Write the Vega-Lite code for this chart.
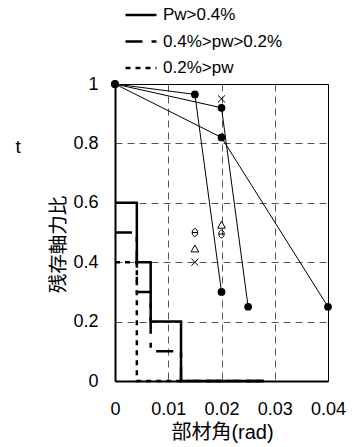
{
  "$schema": "https://vega.github.io/schema/vega-lite/v6.json",
  "width": 213,
  "height": 297,
  "autosize": {"type": "none"},
  "padding": {"left": 115, "top": 84, "right": 25, "bottom": 66},
  "background": "white",
  "config": {
    "view": {"stroke": "black", "strokeWidth": 1},
    "font": "Liberation Sans, Noto Sans CJK JP",
    "axis": {
      "domainColor": "black",
      "domainWidth": 2,
      "ticks": false,
      "tickSize": 0,
      "labelFont": "Liberation Sans",
      "labelFontSize": 18,
      "labelColor": "black",
      "labelFlush": false,
      "labelOverlap": false,
      "titleFont": "Liberation Sans, Noto Sans CJK JP",
      "titleFontSize": 20,
      "titleFontWeight": "normal",
      "titleColor": "black",
      "gridColor": "#555",
      "gridWidth": 1,
      "gridDash": [7, 5]
    }
  },
  "datasets": {
    "envelope": [
      {"series": "Pw>0.4%", "order": 1, "x": 0, "y": 0.6},
      {"series": "Pw>0.4%", "order": 2, "x": 0.0041, "y": 0.6},
      {"series": "Pw>0.4%", "order": 3, "x": 0.0041, "y": 0.4},
      {"series": "Pw>0.4%", "order": 4, "x": 0.0067, "y": 0.4},
      {"series": "Pw>0.4%", "order": 5, "x": 0.0067, "y": 0.2},
      {"series": "Pw>0.4%", "order": 6, "x": 0.0124, "y": 0.2},
      {"series": "Pw>0.4%", "order": 7, "x": 0.0124, "y": 0},
      {"series": "Pw>0.4%", "order": 8, "x": 0.028, "y": 0},
      {"series": "0.4%>pw>0.2%", "order": 1, "x": 0, "y": 0.5},
      {"series": "0.4%>pw>0.2%", "order": 2, "x": 0.0041, "y": 0.5},
      {"series": "0.4%>pw>0.2%", "order": 3, "x": 0.0041, "y": 0.3},
      {"series": "0.4%>pw>0.2%", "order": 4, "x": 0.0067, "y": 0.3},
      {"series": "0.4%>pw>0.2%", "order": 5, "x": 0.0067, "y": 0.1},
      {"series": "0.4%>pw>0.2%", "order": 6, "x": 0.0124, "y": 0.1},
      {"series": "0.4%>pw>0.2%", "order": 7, "x": 0.0124, "y": 0},
      {"series": "0.4%>pw>0.2%", "order": 8, "x": 0.028, "y": 0},
      {"series": "0.2%>pw", "order": 1, "x": 0, "y": 0.4},
      {"series": "0.2%>pw", "order": 2, "x": 0.0041, "y": 0.4},
      {"series": "0.2%>pw", "order": 3, "x": 0.0041, "y": 0},
      {"series": "0.2%>pw", "order": 4, "x": 0.028, "y": 0}
    ],
    "tests": [
      {"test": "A", "order": 1, "x": 0, "y": 1},
      {"test": "A", "order": 2, "x": 0.015, "y": 0.965},
      {"test": "A", "order": 3, "x": 0.02, "y": 0.3},
      {"test": "B", "order": 1, "x": 0, "y": 1},
      {"test": "B", "order": 2, "x": 0.02, "y": 0.92},
      {"test": "B", "order": 3, "x": 0.025, "y": 0.25},
      {"test": "C", "order": 1, "x": 0, "y": 1},
      {"test": "C", "order": 2, "x": 0.02, "y": 0.82},
      {"test": "C", "order": 3, "x": 0.04, "y": 0.25}
    ],
    "markers": [
      {"kind": "cross", "x": 0.02, "y": 0.95},
      {"kind": "theta", "x": 0.015, "y": 0.5},
      {"kind": "triangle", "x": 0.015, "y": 0.445},
      {"kind": "cross", "x": 0.015, "y": 0.4},
      {"kind": "triangle", "x": 0.02, "y": 0.525},
      {"kind": "theta", "x": 0.02, "y": 0.495}
    ],
    "notes": [
      {"label": "t", "x": -0.0182, "y": 0.8}
    ]
  },
  "encoding": {
    "x": {
      "field": "x",
      "type": "quantitative",
      "scale": {"domain": [0, 0.04], "nice": false, "zero": false},
      "axis": {
        "values": [0, 0.01, 0.02, 0.03, 0.04],
        "format": "~g",
        "labelPadding": 19,
        "title": "部材角(rad)",
        "titleX": 107,
        "titleY": 51,
        "titleBaseline": "middle",
        "gridOpacity": {"condition": {"test": "datum.value <= 0 || datum.value >= 0.04", "value": 0}, "value": 1}
      }
    },
    "y": {
      "field": "y",
      "type": "quantitative",
      "scale": {"domain": [0, 1], "nice": false},
      "axis": {
        "values": [0, 0.2, 0.4, 0.6, 0.8, 1],
        "format": "~g",
        "labelPadding": 17,
        "title": "残存軸力比",
        "titleX": -57,
        "titleY": 160,
        "titleFontSize": 19.5,
        "titleAngle": -90,
        "titleBaseline": "middle",
        "titleAlign": "center",
        "gridOpacity": {"condition": {"test": "datum.value <= 0 || datum.value >= 1", "value": 0}, "value": 1}
      }
    }
  },
  "layer": [
    {
      "data": {"name": "envelope"},
      "mark": {"type": "line", "color": "black", "strokeWidth": 2.5, "strokeCap": "butt"},
      "encoding": {
        "order": {"field": "order", "type": "quantitative"},
        "strokeDash": {
          "field": "series",
          "type": "nominal",
          "scale": {
            "domain": ["Pw>0.4%", "0.4%>pw>0.2%", "0.2%>pw"],
            "range": [[1, 0], [17, 9, 5, 9], [5, 5]]
          },
          "legend": {
            "orient": "none",
            "legendX": 9,
            "legendY": -86,
            "title": null,
            "symbolType": "stroke",
            "symbolSize": 961,
            "symbolStrokeWidth": 2.5,
            "symbolStrokeColor": "black",
            "labelFont": "Liberation Sans",
            "labelFontSize": 17,
            "labelColor": "black",
            "labelOffset": 5,
            "rowPadding": 1.5
          }
        }
      }
    },
    {
      "data": {"name": "tests"},
      "mark": {"type": "line", "color": "black", "strokeWidth": 1},
      "encoding": {
        "detail": {"field": "test", "type": "nominal"},
        "order": {"field": "order", "type": "quantitative"}
      }
    },
    {
      "data": {"name": "tests"},
      "mark": {"type": "point", "filled": true, "color": "black", "size": 60, "opacity": 1}
    },
    {
      "data": {"name": "markers"},
      "mark": {"type": "point", "filled": false, "color": "black", "strokeWidth": 1, "size": 60, "opacity": 1},
      "encoding": {
        "shape": {
          "field": "kind",
          "type": "nominal",
          "scale": {
            "domain": ["cross", "triangle", "theta"],
            "range": [
              "M-0.9,-0.9L0.9,0.9M0.9,-0.9L-0.9,0.9",
              "M0,-1L1,0.8L-1,0.8Z",
              "M-0.7,0A0.7,1,0,1,0,0.7,0A0.7,1,0,1,0,-0.7,0ZM-0.7,0L0.7,0"
            ]
          },
          "legend": null
        }
      }
    },
    {
      "data": {"name": "notes"},
      "mark": {"type": "text", "font": "Liberation Sans", "fontSize": 19, "color": "black", "baseline": "middle", "align": "center", "dy": 4},
      "encoding": {"text": {"field": "label"}}
    }
  ]
}
